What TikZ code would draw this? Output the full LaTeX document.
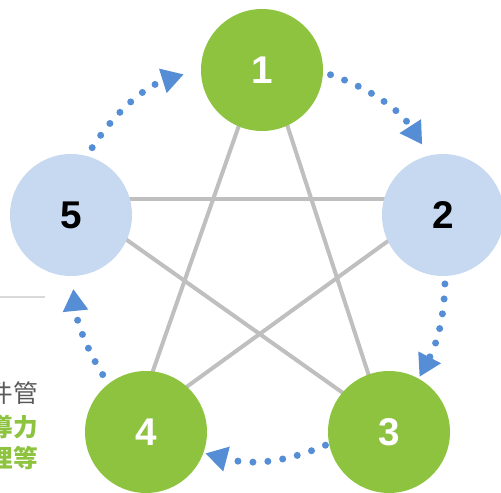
\documentclass[tikz,border=0pt]{standalone}
\usepackage{fontspec}
\setmainfont{Liberation Sans}
\newfontfamily\cjkfont{Noto Sans CJK TC}
\usetikzlibrary{arrows.meta, positioning, calc}
\definecolor{leaf}{HTML}{8DC33F}
\definecolor{sky}{HTML}{C6D9F1}
\definecolor{dotblue}{HTML}{558ED5}
\definecolor{spokegray}{HTML}{BFBFBF}
\definecolor{textgray}{HTML}{595959}

\begin{document}
\begin{tikzpicture}[
    ball/.style={circle, minimum size=2.44cm, inner sep=0pt, outer sep=0pt,
                 font=\fontsize{22}{22}\selectfont\bfseries},
    green ball/.style={ball, fill=leaf, text=white},
    blue ball/.style={ball, fill=sky, text=black},
    starline/.style={spokegray, line width=0.08cm},
    flow/.style={dotblue, line width=0.14cm, line cap=round,
                 dash pattern=on 0pt off 0.3cm,
                 -{Triangle[length=0.44cm, width=0.48cm]}},
    side/.style={anchor=east, inner sep=0pt,
                 font=\cjkfont\fontsize{14}{16}\selectfont}
  ]
  \useasboundingbox (0,0) rectangle (10.02,9.84);

  % star points, a bit above the ball centres
  \coordinate (s1) at (5.28, 8.76);
  \coordinate (s2) at (8.92, 5.86);
  \coordinate (s3) at (7.68, 1.40);
  \coordinate (s4) at (2.68, 1.34);
  \coordinate (s5) at (1.38, 5.86);

  \foreach \a/\b in {s1/s3, s1/s4, s5/s2, s5/s3, s4/s2}
    \draw[starline] (\a) -- (\b);

  % the five balls
  \node[green ball] (n1) at (5.24, 8.44) {1};
  \node[blue ball]  (n2) at (8.86, 5.54) {2};
  \node[green ball] (n3) at (7.78, 1.20) {3};
  \node[green ball] (n4) at (2.92, 1.20) {4};
  \node[blue ball]  (n5) at (1.42, 5.54) {5};

  % dotted cycle 5 -> 1 -> 2 -> 3 -> 4 -> 5
  \draw[flow, shorten <=0.2cm, shorten >=0.36cm]
    (n5.75) to[bend left=20] (n1.179);
  \draw[flow, shorten <=0.16cm, shorten >=0.26cm]
    (n1.-2) to[bend left=19] (n2.103);
  \draw[flow, shorten <=0.16cm, shorten >=0.04cm]
    (n2.-88) to[bend left=13] (n3.61);
  \draw[flow, shorten <=0.08cm, shorten >=0.04cm]
    (n3.191) to[bend left=19] (n4.-20);
  \draw[flow, shorten <=0.22cm, shorten >=0.26cm]
    (n4.128) to[bend left=13] (n5.-89);

  % cut-off text box at the left edge
  \draw[gray!30, line width=0.04cm] (-0.5, 3.90) -- (0.90, 3.90);
  \node[side, text=textgray] (t1) at (0.76, 1.98) {件管};
  \node[side, text=leaf, font=\cjkfont\fontsize{14}{16}\selectfont\bfseries]
    (t2) at (0.76, 1.30) {導力};
  \node[side, text=leaf, font=\cjkfont\fontsize{14}{16}\selectfont\bfseries]
    (t3) at (0.76, 0.68) {理等};
\end{tikzpicture}
\end{document}
